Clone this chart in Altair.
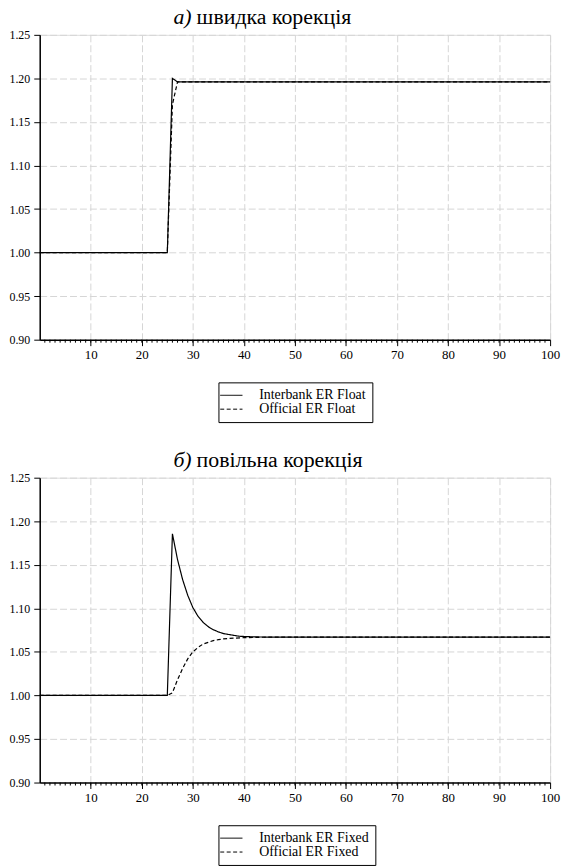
import altair as alt
import pandas as pd

FONT = "Liberation Serif"

# ---- Panel a: fast correction ----
title_a_tag = "а)"
title_a_text = "швидка корекція"
names_a = ["Interbank ER Float", "Official ER Float"]
t_a_inter = [0, 25, 26, 27, 100]
v_a_inter = [1.0, 1.0, 1.200, 1.196, 1.196]
t_a_off = [0, 25, 26, 27, 100]
v_a_off = [1.0, 1.0, 1.170, 1.196, 1.196]

# ---- Panel b: slow correction ----
title_b_tag = "б)"
title_b_text = "повільна корекція"
names_b = ["Interbank ER Fixed", "Official ER Fixed"]
t_b_inter = [0, 25, 26, 27, 28, 29, 30, 31, 32, 33, 34, 35, 36, 37, 38, 39, 40, 42, 45, 50, 100]
v_b_inter = [1.0, 1.0, 1.1856, 1.156, 1.133, 1.115, 1.101, 1.091, 1.084, 1.079, 1.0755,
             1.073, 1.071, 1.070, 1.069, 1.068, 1.0677, 1.0672, 1.067, 1.067, 1.067]
t_b_off = [0, 25, 26, 27, 28, 29, 30, 31, 32, 33, 34, 35, 36, 38, 40, 42, 45, 50, 100]
v_b_off = [1.0, 1.0, 1.003, 1.018, 1.031, 1.042, 1.050, 1.055, 1.059, 1.061, 1.063,
           1.064, 1.065, 1.0658, 1.0663, 1.0666, 1.067, 1.067, 1.067]

x_ticks = [10, 20, 30, 40, 50, 60, 70, 80, 90, 100]
x_minor = list(range(1, 100))
y_ticks = [0.90, 0.95, 1.00, 1.05, 1.10, 1.15, 1.20, 1.25]

W, H = 514, 307


def panel(names, ti, vi, to, vo, tag, text, legend_x, legend_y):
    df = pd.concat([
        pd.DataFrame({"t": ti, "v": vi, "s": names[0]}),
        pd.DataFrame({"t": to, "v": vo, "s": names[1]}),
    ])
    xscale = alt.Scale(domain=[0, 100], nice=False, zero=False)
    yscale = alt.Scale(domain=[0.90, 1.25], nice=False, zero=False)
    lines = alt.Chart(df).mark_line(color="black", strokeWidth=1.2).encode(
        x=alt.X("t:Q", scale=xscale, axis=alt.Axis(
            values=x_ticks, title=None, tickSize=6, tickColor="black",
            labelFont=FONT, labelFontSize=13, labelColor="black", labelPadding=3,
            domainColor="black", domainWidth=1.5, grid=True, gridColor="#d6d6d6",
            gridDash=[7, 3], gridWidth=1, labelFlush=False)),
        y=alt.Y("v:Q", scale=yscale, axis=alt.Axis(
            values=y_ticks, title=None, format=".2f", tickSize=6, tickColor="black",
            labelFont=FONT, labelFontSize=12, labelColor="black", labelPadding=4,
            domainColor="black", domainWidth=1.5, grid=True, gridColor="#d6d6d6",
            gridDash=[7, 3], gridWidth=1, labelFlush=False)),
        strokeDash=alt.StrokeDash("s:N", scale=alt.Scale(domain=names, range=[[1, 0], [4, 2.5]]),
                                  legend=alt.Legend(
                                      title=None, orient="none", legendX=legend_x, legendY=legend_y,
                                      strokeColor="black", padding=6,
                                      symbolType="M-3.2,0H3.2", symbolSize=49, symbolStrokeWidth=1,
                                      symbolStrokeColor="black",
                                      labelFont=FONT, labelFontSize=14, labelColor="black",
                                      labelOffset=21, rowPadding=0)),
        order="t:Q",
    )
    minor = alt.Chart(pd.DataFrame({"m": x_minor})).mark_rule(color="black", strokeWidth=1).encode(
        x=alt.X("m:Q", scale=xscale),
        y=alt.value(H),
        y2=alt.value(H + 3),
    )
    tag_mark = alt.Chart(pd.DataFrame({"txt": [tag]})).mark_text(
        font=FONT, fontSize=22, fontStyle="italic", align="right", baseline="alphabetic",
        color="black").encode(x=alt.value(153), y=alt.value(-11), text="txt:N")
    text_mark = alt.Chart(pd.DataFrame({"txt": [text]})).mark_text(
        font=FONT, fontSize=22, align="left", baseline="alphabetic",
        color="black").encode(x=alt.value(158), y=alt.value(-11), text="txt:N")
    return alt.layer(lines, minor, tag_mark, text_mark).properties(width=W, height=H)


pa = panel(names_a, t_a_inter, v_a_inter, t_a_off, v_a_off, title_a_tag, title_a_text, 180, 350)
pb = panel(names_b, t_b_inter, v_b_inter, t_b_off, v_b_off, title_b_tag, title_b_text, 180, 350)

chart = alt.vconcat(pa, pb, spacing=25).resolve_scale(
    strokeDash="independent").resolve_legend(strokeDash="independent").properties(
    padding={"left": 8, "top": 2, "right": 3, "bottom": 2}
).configure_view(stroke="black", strokeWidth=1.5).configure(background="white")

chart.save("out.html", embed_options={"renderer": "svg", "actions": False})
